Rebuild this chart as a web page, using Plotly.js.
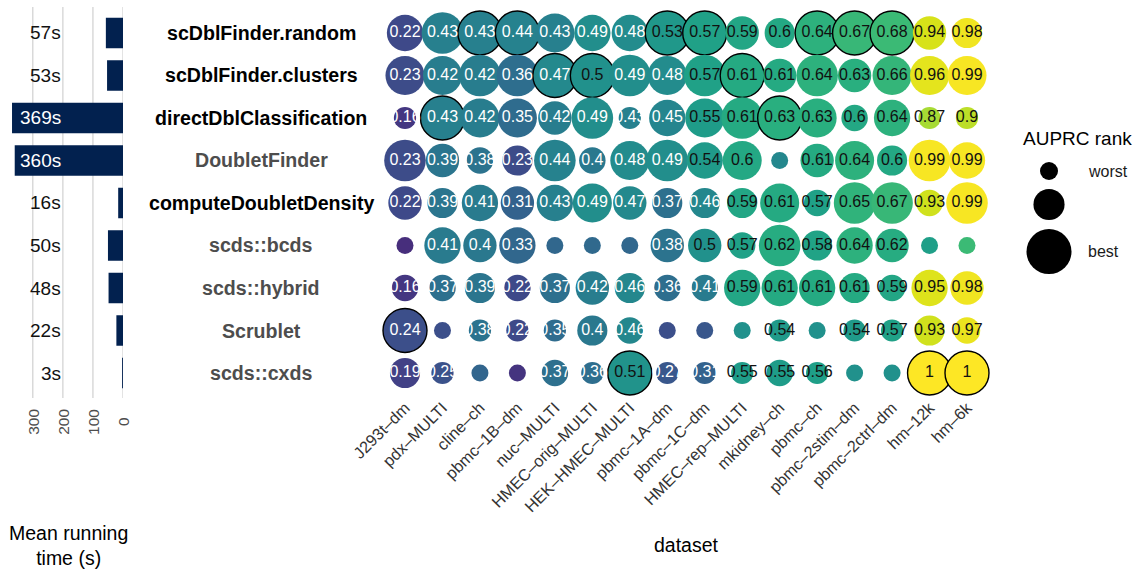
<!DOCTYPE html>
<html>
<head>
<meta charset="utf-8">
<script src="https://cdn.plot.ly/plotly-3.0.1.min.js"></script>
<style>
  html, body { margin: 0; padding: 0; background: #ffffff; }
  #chart { width: 1135px; height: 573px; }
</style>
</head>
<body>
<div id="chart"></div>
<script>
// ---- data -------------------------------------------------------------
const datasets = ["J293t–dm", "pdx–MULTI", "cline–ch", "pbmc–1B–dm", "nuc–MULTI",
  "HMEC–orig–MULTI", "HEK–HMEC–MULTI", "pbmc–1A–dm", "pbmc–1C–dm", "HMEC–rep–MULTI",
  "mkidney–ch", "pbmc–ch", "pbmc–2stim–dm", "pbmc–2ctrl–dm", "hm–12k", "hm–6k"];

const methods = ["scDblFinder.random", "scDblFinder.clusters", "directDblClassification",
  "DoubletFinder", "computeDoubletDensity", "scds::bcds", "scds::hybrid", "Scrublet", "scds::cxds"];

// methods shipped with the scDblFinder package (labelled in black)
const scDblFinderPackage = ["scDblFinder.random", "scDblFinder.clusters",
  "directDblClassification", "computeDoubletDensity"];

// mean running time (seconds)
const runTime = [57, 53, 369, 360, 16, 50, 48, 22, 3];
const timeTicks = [0, 100, 200, 300];

// AUPRC per dataset
const auprcRandom    = [0.22, 0.43, 0.43, 0.44, 0.43, 0.49, 0.48, 0.53, 0.57, 0.59, 0.6, 0.64, 0.67, 0.68, 0.94, 0.98];
const auprcClusters  = [0.23, 0.42, 0.42, 0.36, 0.47, 0.5, 0.49, 0.48, 0.57, 0.61, 0.61, 0.64, 0.63, 0.66, 0.96, 0.99];
const auprcDirect    = [0.16, 0.43, 0.42, 0.35, 0.42, 0.49, 0.43, 0.45, 0.55, 0.61, 0.63, 0.63, 0.6, 0.64, 0.87, 0.9];
const auprcDF        = [0.23, 0.39, 0.38, 0.23, 0.44, 0.4, 0.48, 0.49, 0.54, 0.6, 0.46, 0.61, 0.64, 0.6, 0.99, 0.99];
const auprcCDD       = [0.22, 0.39, 0.41, 0.31, 0.43, 0.49, 0.47, 0.37, 0.46, 0.59, 0.61, 0.57, 0.65, 0.67, 0.93, 0.99];
const auprcBcds      = [0.13, 0.41, 0.4, 0.33, 0.33, 0.34, 0.33, 0.38, 0.5, 0.57, 0.62, 0.58, 0.64, 0.62, 0.56, 0.68];
const auprcHybrid    = [0.16, 0.37, 0.39, 0.22, 0.37, 0.42, 0.46, 0.36, 0.41, 0.59, 0.61, 0.61, 0.61, 0.59, 0.95, 0.98];
const auprcScrublet  = [0.24, 0.24, 0.38, 0.22, 0.35, 0.4, 0.46, 0.24, 0.27, 0.5, 0.54, 0.5, 0.54, 0.57, 0.93, 0.97];
const auprcCxds      = [0.19, 0.25, 0.32, 0.15, 0.37, 0.36, 0.51, 0.27, 0.31, 0.55, 0.55, 0.56, 0.5, 0.5, 1, 1];

// AUPRC rank within each dataset (9 = best, 1 = worst)
const rankRandom    = [6, 8, 9, 9, 7, 6, 6, 9, 9, 5, 4, 9, 9, 9, 5, 4];
const rankClusters  = [7, 7, 8, 8, 9, 9, 8, 7, 8, 9, 5, 8, 5, 7, 7, 7];
const rankDirect    = [2, 9, 7, 7, 5, 8, 2, 6, 7, 8, 9, 7, 3, 6, 2, 2];
const rankDF        = [8, 5, 3, 4, 8, 3, 7, 8, 6, 7, 1, 5, 7, 4, 8, 6];
const rankCDD       = [5, 4, 6, 5, 6, 7, 5, 4, 4, 4, 7, 3, 8, 8, 3, 8];
const rankBcds      = [1, 6, 5, 6, 1, 1, 1, 5, 5, 3, 8, 4, 6, 5, 1, 1];
const rankHybrid    = [3, 3, 4, 3, 4, 5, 4, 3, 3, 6, 6, 6, 4, 3, 6, 5];
const rankScrublet  = [9, 1, 2, 2, 2, 4, 3, 1, 1, 1, 2, 1, 2, 2, 4, 3];
const rankCxds      = [4, 2, 1, 1, 3, 2, 9, 2, 2, 2, 3, 2, 1, 1, 9, 9];

const legendRanks = [1, 4, 9];
const legendLabels = ["worst", "", "best"];

// ---- helpers ----------------------------------------------------------
const auprcRows = [auprcRandom, auprcClusters, auprcDirect, auprcDF, auprcCDD,
  auprcBcds, auprcHybrid, auprcScrublet, auprcCxds];
const rankRows = [rankRandom, rankClusters, rankDirect, rankDF, rankCDD,
  rankBcds, rankHybrid, rankScrublet, rankCxds];

const FONT = "Liberation Sans, Arial, Helvetica, sans-serif";
const W = 1135, H = 573;
const px = v => v / W;          // horizontal pixel -> paper
const py = v => 1 - v / H;      // vertical pixel -> paper

const RANK_MIN = 1, RANK_MAX = 9, DIA_MIN = 17, DIA_MAX = 44;
// area proportional to rank
function rankToDiameter(r) {
  const t = (r - RANK_MIN) / (RANK_MAX - RANK_MIN);
  return Math.sqrt(DIA_MIN * DIA_MIN + t * (DIA_MAX * DIA_MAX - DIA_MIN * DIA_MIN));
}

// ---- bubble grid --------------------------------------------------------
const bx = [], by = [], bc = [], bs = [], bt = [], btc = [], blw = [];
methods.forEach((m, i) => {
  datasets.forEach((d, j) => {
    const v = auprcRows[i][j], r = rankRows[i][j];
    bx.push(d); by.push(m); bc.push(v);
    bs.push(rankToDiameter(r));
    bt.push(r === RANK_MIN ? "" : String(v));
    btc.push(v >= 0.5 ? "#111111" : "#ffffff");
    blw.push(r === RANK_MAX ? 1.4 : 0);
  });
});

const bubbles = {
  type: "scatter", mode: "markers+text",
  x: bx, y: by, xaxis: "x", yaxis: "y",
  text: bt, textposition: "middle center",
  textfont: { family: FONT, size: 16, color: btc },
  marker: {
    size: bs, sizemode: "diameter", opacity: 1,
    color: bc, colorscale: "Viridis", cmin: 0, cmax: 1, showscale: false,
    line: { color: "#000000", width: blw }
  },
  opacity: 1,
  cliponaxis: false, hoverinfo: "skip", showlegend: false
};

// ---- running-time bars -------------------------------------------------
const bars = {
  type: "bar", orientation: "h",
  x: runTime, y: methods, xaxis: "x2", yaxis: "y2",
  marker: { color: "#02214f", line: { width: 0 } },
  hoverinfo: "skip", showlegend: false
};

// ---- size legend -------------------------------------------------------
const legendDia = legendRanks.map(r => rankToDiameter(r) + 1);
const legendY = [];
const LEGEND_TOP = 171, LEGEND_GAP = 9;
legendDia.forEach((d, k) => {
  legendY.push(k === 0 ? LEGEND_TOP : legendY[k - 1] + (legendDia[k - 1] + d) / 2 + LEGEND_GAP);
});
const LEGEND_X = 1049;
const sizeLegend = {
  type: "scatter", mode: "markers",
  x: legendRanks.map(() => LEGEND_X), y: legendY, xaxis: "x3", yaxis: "y3",
  marker: { size: legendDia, sizemode: "diameter", color: "#000000", opacity: 1,
            line: { width: 0 } },
  opacity: 1,
  cliponaxis: false, hoverinfo: "skip", showlegend: false
};

// ---- layout ------------------------------------------------------------
const ROW_TOP = 33, ROW_BOTTOM = 373, COL_LEFT = 405, COL_RIGHT = 967;
const rowStep = (ROW_BOTTOM - ROW_TOP) / (methods.length - 1);
const colStep = (COL_RIGHT - COL_LEFT) / (datasets.length - 1);
const yDomain = [py(ROW_BOTTOM + rowStep / 2), py(ROW_TOP - rowStep / 2)];
const xDomain = [px(COL_LEFT - colStep / 2), px(COL_RIGHT + colStep / 2)];

const annotations = [];

// method names between the two panels
methods.forEach(m => {
  const inPkg = scDblFinderPackage.includes(m);
  annotations.push({
    x: px(261), xref: "paper", y: m, yref: "y",
    text: "<b>" + m + "</b>", showarrow: false, xanchor: "center", yanchor: "middle",
    font: { family: FONT, size: 19.6, color: inPkg ? "#000000" : "#4d4d4d" }
  });
});

// running-time labels
const TIME_LABEL_AT = 200;
methods.forEach((m, i) => {
  annotations.push({
    x: TIME_LABEL_AT, xref: "x2", y: m, yref: "y2",
    text: runTime[i] + "s", showarrow: false, xanchor: "right", yanchor: "middle",
    font: { family: FONT, size: 19, color: runTime[i] > TIME_LABEL_AT ? "#ffffff" : "#111111" }
  });
});

// running-time axis ticks (vertical text)
timeTicks.forEach(t => {
  annotations.push({
    x: t, xref: "x2", y: py(422), yref: "paper",
    text: String(t), textangle: -90, showarrow: false,
    xanchor: "center", yanchor: "middle",
    font: { family: FONT, size: 15.5, color: "#4d4d4d" }
  });
});

// axis titles
annotations.push({
  x: px(68), xref: "paper", y: py(545), yref: "paper",
  text: "Mean running<br>time (s)", showarrow: false, align: "center",
  xanchor: "center", yanchor: "middle",
  font: { family: FONT, size: 19.5, color: "#000000" }
});
annotations.push({
  x: (xDomain[0] + xDomain[1]) / 2, xref: "paper", y: py(545), yref: "paper",
  text: "dataset", showarrow: false, xanchor: "center", yanchor: "middle",
  font: { family: FONT, size: 19.5, color: "#000000" }
});

// legend title and key labels
annotations.push({
  x: px(1021), xref: "paper", y: py(138), yref: "paper",
  text: "AUPRC rank", showarrow: false, xanchor: "left", yanchor: "middle",
  font: { family: FONT, size: 19, color: "#000000" }
});
legendLabels.forEach((lab, k) => {
  if (!lab) return;
  annotations.push({
    x: 1086, xref: "x3", y: legendY[k], yref: "y3",
    text: lab, showarrow: false, xanchor: "left", yanchor: "middle",
    font: { family: FONT, size: 16, color: "#1a1a1a" }
  });
});

// vertical grid lines of the running-time panel
const shapes = timeTicks.map(t => ({
  type: "line", xref: "x2", yref: "paper",
  x0: t, x1: t, y0: py(398), y1: py(7),
  line: { color: "#d7d7d7", width: 1.4 }, layer: "below"
}));

const TIME_MAX = 389;
const layout = {
  width: W, height: H,
  margin: { l: 0, r: 0, t: 0, b: 0, pad: 0 },
  paper_bgcolor: "#ffffff", plot_bgcolor: "rgba(0,0,0,0)",
  showlegend: false, bargap: 0.28,
  font: { family: FONT },
  xaxis: {
    domain: xDomain, type: "category", categoryorder: "array", categoryarray: datasets,
    range: [-0.5, datasets.length - 0.5], anchor: "y",
    showgrid: false, zeroline: false, showline: false, ticks: "",
    tickangle: -45, tickfont: { family: FONT, size: 16.3, color: "#333333" },
    fixedrange: true
  },
  yaxis: {
    domain: yDomain, type: "category", categoryorder: "array", categoryarray: methods,
    range: [methods.length - 0.5, -0.5], anchor: "x",
    showgrid: false, zeroline: false, showline: false, showticklabels: false, ticks: "",
    fixedrange: true
  },
  xaxis2: {
    domain: [px(6), px(123)], range: [TIME_MAX, 0], anchor: "y2",
    showgrid: false, zeroline: false, showline: false, showticklabels: false, ticks: "",
    fixedrange: true
  },
  yaxis2: {
    domain: yDomain, type: "category", categoryorder: "array", categoryarray: methods,
    range: [methods.length - 0.5, -0.5], anchor: "x2",
    showgrid: false, zeroline: false, showline: false, showticklabels: false, ticks: "",
    fixedrange: true
  },
  xaxis3: { domain: [0, 1], range: [0, W], anchor: "y3", visible: false, fixedrange: true },
  yaxis3: { domain: [0, 1], range: [H, 0], anchor: "x3", visible: false, fixedrange: true },
  annotations: annotations,
  shapes: shapes
};

Plotly.newPlot("chart", [bars, bubbles, sizeLegend], layout,
  { displayModeBar: false, staticPlot: true, responsive: false });
</script>
</body>
</html>
